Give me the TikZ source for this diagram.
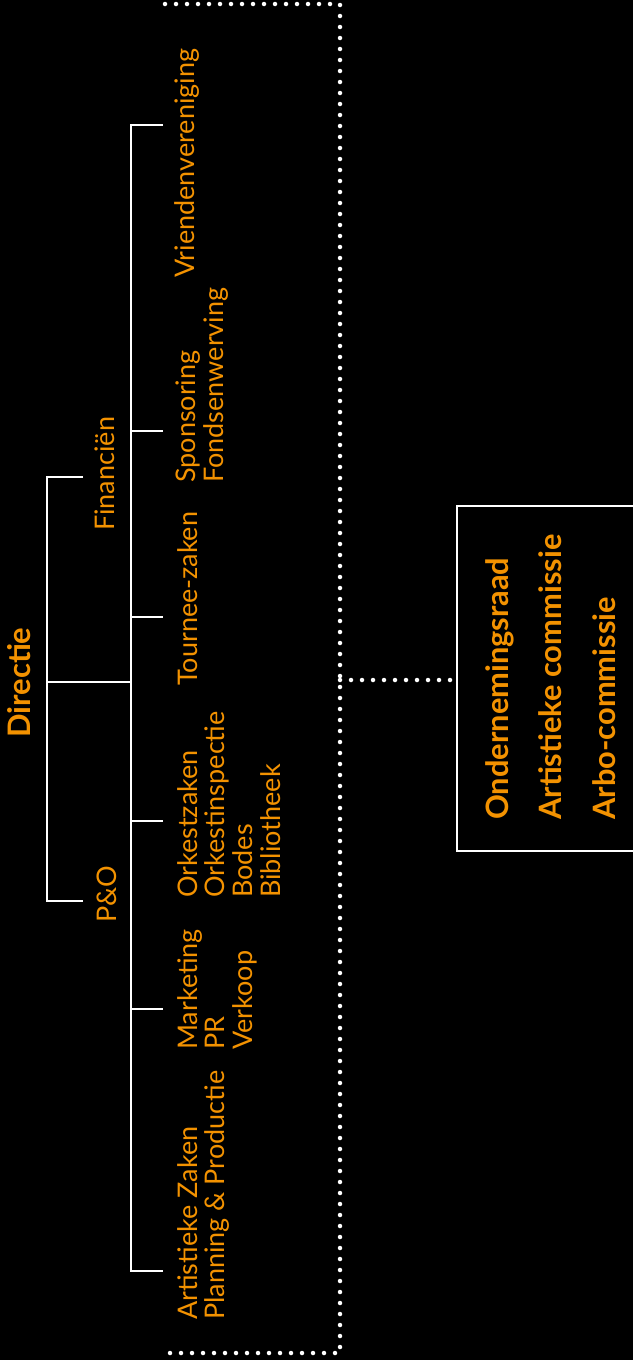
\documentclass[tikz,border=0pt]{standalone}
\usepackage{fontspec}
\setmainfont{Lato}
\definecolor{org}{HTML}{F39200}
\begin{document}
\begin{tikzpicture}[x=1pt,y=-1pt,
  lbl/.style={text=org, rotate=90, anchor=north west, inner sep=0pt, align=left,
    font=\fontsize{27}{27.7}\selectfont},
  toplbl/.style={lbl, font=\bfseries\fontsize{31}{34}\selectfont},
  grplbl/.style={lbl, font=\bfseries\fontsize{30.8}{53.5}\selectfont},
  wline/.style={draw=white, line width=2pt},
  dots/.style={draw=white, line width=4.5pt, line cap=round, dash pattern=on 0pt off 11pt}]
\fill[black] (0,0) rectangle (633,1360);
\useasboundingbox (0,0) rectangle (633,1360);
% labels
\node[toplbl] (dir) at (7,738) {Directie};
\node[lbl] (fin) at (95,531) {Financiën};
\node[lbl] (po) at (97,923) {P\&O};
\node[lbl] (vv) at (174,278) {Vriendenvereniging};
\node[lbl] (spo) at (176,483) {Sponsoring\\Fondsenwerving};
\node[lbl] (tou) at (177,686) {Tournee-zaken};
\node[lbl] (ork) at (177,898) {Orkestzaken\\Orkestinspectie\\Bodes\\Bibliotheek};
\node[lbl] (mar) at (177,1050) {Marketing\\PR\\Verkoop};
\node[lbl] (art) at (177,1320) {Artistieke Zaken\\Planning \& Productie};
% group box
\node[draw=white, line width=2pt, minimum width=188pt, minimum height=345pt, inner sep=0pt] (grp) at (551,678.5) {};
\node[grplbl] (grptxt) at (485,820) {Ondernemingsraad\\Artistieke commissie\\Arbo-commissie};
% bracket coordinates
\coordinate (dA) at (47,682);
\coordinate (fA) at (47,477); \coordinate (fT) at (83,477);
\coordinate (pA) at (47,901); \coordinate (pT) at (83,901);
\coordinate (sA) at (131,682);
\coordinate (vA) at (131,125); \coordinate (vT) at (163,125);
\coordinate (spA) at (131,431); \coordinate (spT) at (163,431);
\coordinate (toA) at (131,617); \coordinate (toT) at (163,617);
\coordinate (orA) at (131,821); \coordinate (orT) at (163,821);
\coordinate (maA) at (131,1009); \coordinate (maT) at (163,1009);
\coordinate (arA) at (131,1271); \coordinate (arT) at (163,1271);
\draw[wline] (fT) -- (fA) -- (pA) -- (pT);
\draw[wline] (dA) -- (sA);
\draw[wline] (vT) -- (vA) -- (arA) -- (arT);
\draw[wline] (spA) -- (spT);
\draw[wline] (toA) -- (toT);
\draw[wline] (orA) -- (orT);
\draw[wline] (maA) -- (maT);
% dotted frame
\coordinate (fr1) at (165,4); \coordinate (fr2) at (340,4);
\coordinate (fr3) at (340,1353); \coordinate (fr4) at (165,1353);
\coordinate (frc) at (340,680);
\draw[dots] (fr1) -- (fr2) -- (fr3) -- (fr4);
\draw[dots] (frc) -- (frc -| grp.west);
\end{tikzpicture}
\end{document}
